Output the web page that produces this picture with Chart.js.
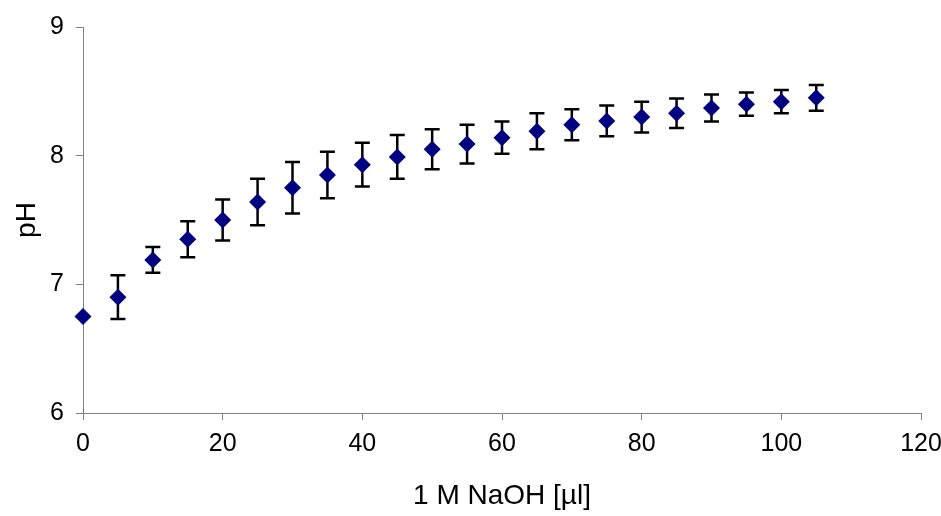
<!DOCTYPE html>
<html>
<head>
<meta charset="utf-8">
<script src="https://cdn.jsdelivr.net/npm/chart.js@4/dist/chart.umd.min.js"></script>
<style>
  html, body { margin: 0; padding: 0; background: #fff; }
  #wrap { width: 941px; height: 516px; }
</style>
</head>
<body>
<div id="wrap"><canvas id="titration"></canvas></div>
<script>
// volume of 1 M NaOH added (µl)
const naohVolume = [0, 5, 10, 15, 20, 25, 30, 35, 40, 45, 50, 55, 60, 65, 70, 75, 80, 85, 90, 95, 100, 105];
// mean pH
const phValues = [6.75, 6.90, 7.19, 7.35, 7.50, 7.64, 7.75, 7.85, 7.93, 7.99, 8.05, 8.09, 8.14, 8.19, 8.24, 8.27, 8.30, 8.33, 8.37, 8.40, 8.42, 8.45];
// error (+/-)
const phError = [0, 0.17, 0.10, 0.14, 0.16, 0.18, 0.20, 0.18, 0.17, 0.17, 0.155, 0.15, 0.125, 0.14, 0.12, 0.12, 0.12, 0.115, 0.105, 0.09, 0.09, 0.10];

const xTicks = [0, 20, 40, 60, 80, 100, 120];
const yTicks = [6, 7, 8, 9];

const fontFamily = "'Liberation Sans', Arial, sans-serif";

const errorBars = {
    id: 'errorBars',
    beforeDatasetsDraw(chart) {
        const ctx = chart.ctx;
        const xScale = chart.scales.x;
        const yScale = chart.scales.y;
        ctx.save();
        ctx.strokeStyle = '#000';
        ctx.lineWidth = 2.5;
        for (let i = 0; i < naohVolume.length; i++) {
            if (!phError[i]) continue;
            const px = xScale.getPixelForValue(naohVolume[i]);
            const top = yScale.getPixelForValue(phValues[i] + phError[i]);
            const bottom = yScale.getPixelForValue(phValues[i] - phError[i]);
            ctx.beginPath();
            ctx.moveTo(px, top);
            ctx.lineTo(px, bottom);
            ctx.moveTo(px - 7.5, top);
            ctx.lineTo(px + 7.5, top);
            ctx.moveTo(px - 7.5, bottom);
            ctx.lineTo(px + 7.5, bottom);
            ctx.stroke();
        }
        ctx.restore();
    }
};

new Chart(document.getElementById('titration'), {
    type: 'scatter',
    data: {
        datasets: [{
            label: 'pH',
            data: naohVolume.map((v, i) => ({ x: v, y: phValues[i] })),
            pointStyle: 'rectRot',
            pointRadius: 8.5,
            pointHoverRadius: 8.5,
            backgroundColor: '#000080',
            borderColor: '#000080',
            borderWidth: 0,
            clip: false
        }]
    },
    options: {
        responsive: true,
        maintainAspectRatio: false,
        animation: false,
        layout: { padding: { top: 26, right: 20, bottom: 0, left: 0 } },
        plugins: {
            legend: { display: false },
            tooltip: { enabled: false }
        },
        scales: {
            x: {
                type: 'linear',
                min: 0,
                max: 120,
                afterBuildTicks(scale) { scale.ticks = xTicks.map(v => ({ value: v })); },
                afterFit(scale) {
                    scale.height = 103;
                    scale.paddingLeft = 0;
                    scale.paddingRight = 0;
                },
                grid: { drawOnChartArea: false, drawTicks: true, tickLength: 7, color: '#808080' },
                border: { display: true, color: '#808080', width: 1 },
                ticks: { color: '#000', padding: 9, font: { family: fontFamily, size: 25 } },
                title: {
                    display: true,
                    text: '1 M NaOH [µl]',
                    color: '#000',
                    padding: { top: 4, bottom: 3 },
                    font: { family: fontFamily, size: 28 }
                }
            },
            y: {
                type: 'linear',
                min: 6,
                max: 9,
                afterBuildTicks(scale) { scale.ticks = yTicks.map(v => ({ value: v })); },
                afterFit(scale) { scale.width = 83; },
                grid: { drawOnChartArea: false, drawTicks: true, tickLength: 7, color: '#808080' },
                border: { display: true, color: '#808080', width: 1 },
                ticks: { color: '#000', padding: 12, font: { family: fontFamily, size: 25 } },
                title: {
                    display: true,
                    text: 'pH',
                    color: '#000',
                    padding: { top: 10, bottom: 4 },
                    font: { family: fontFamily, size: 28 }
                }
            }
        }
    },
    plugins: [errorBars]
});
</script>
</body>
</html>
